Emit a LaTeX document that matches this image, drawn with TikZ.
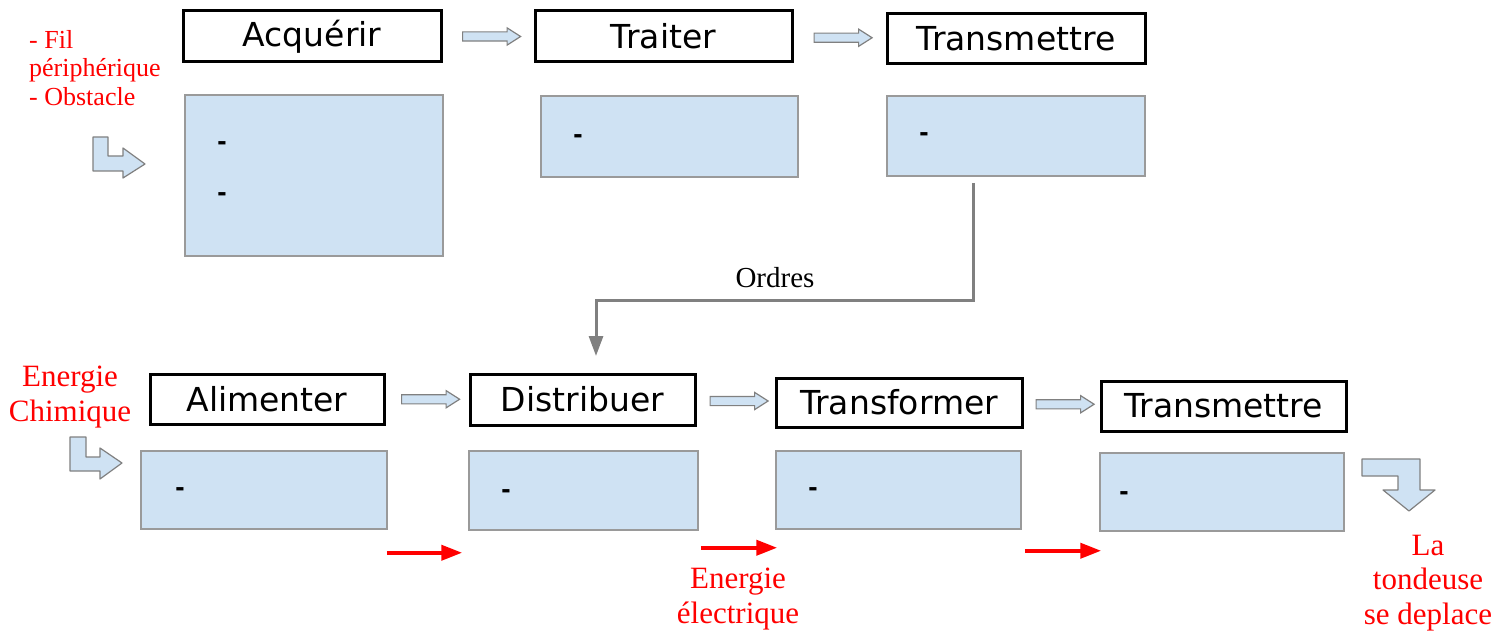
\documentclass[tikz,border=0pt]{standalone}
\usepackage{fontspec}
\setmainfont{Liberation Serif}
\newfontfamily\titleFont{DejaVu Sans}
\newfontfamily\dashFont{Liberation Sans}
\usetikzlibrary{positioning,calc,shapes.arrows,arrows.meta}
\definecolor{boxBlue}{HTML}{CFE2F3}
\definecolor{boxGray}{HTML}{9A9A9A}
\definecolor{lineGray}{HTML}{808080}
\tikzstyle{diagram} = [x=1pt, y=-1pt]
\tikzstyle{titleBox} = [draw=black, line width=3pt, fill=white, inner sep=0pt, font=\titleFont\fontsize{33}{36}\selectfont]
\tikzstyle{taskBox} = [draw=boxGray, line width=1.5pt, fill=boxBlue, inner sep=0pt]
\tikzstyle{dashText} = [font=\dashFont\bfseries\fontsize{28}{30}\selectfont, inner sep=0pt]
\tikzstyle{blockArrow} = [single arrow, draw=lineGray, fill=boxBlue, line width=1.2pt, minimum width=16pt, minimum height=58pt, single arrow head extend=4pt, single arrow tip angle=65, inner xsep=0pt, inner ysep=4pt]
\tikzstyle{bentArrow} = [draw=lineGray, fill=boxBlue, line width=1.2pt, line join=round]
\tikzstyle{redText} = [text=red, align=center, inner sep=0pt, font=\fontsize{31}{34.5}\selectfont]
\tikzstyle{redArrow} = [draw=red, line width=4pt, -{Triangle[length=21pt,width=15pt]}]
\tikzstyle{orderLine} = [draw=lineGray, line width=3pt, -{Triangle[length=20pt,width=14pt]}]
\newcommand{\blockArrowBetween}[2]{\node [blockArrow] at ($(#1.east)!0.5!(#2.west)$) {};}

\begin{document}
\begin{tikzpicture}[diagram]
  \useasboundingbox (0,0) rectangle (1506,636);

  % chaine d'information
  \node [titleBox, minimum width=258pt, minimum height=51pt] (acqT) at (312,36.5) {Acquérir};
  \node [titleBox, minimum width=257pt, minimum height=51pt] (trtT) at (663.5,36.5) {Traiter};
  \node [titleBox, minimum width=258pt, minimum height=50pt] (tmtT) at (1016,39) {Transmettre};
  \node [taskBox, minimum width=258pt, minimum height=161pt] (acqB) at (314,175.5) {};
  \node [taskBox, minimum width=257pt, minimum height=81pt] (trtB) at (669.5,136.5) {};
  \node [taskBox, minimum width=258pt, minimum height=80pt] (tmtB) at (1016,136) {};
  \node [dashText] (acqD1) at (222,146) {-};
  \node [dashText] (acqD2) at (222,197) {-};
  \node [dashText] (trtD) at (578,139) {-};
  \node [dashText] (tmtD) at (924,137) {-};
  \blockArrowBetween{acqT}{trtT}
  \blockArrowBetween{trtT}{tmtT}

  % chaine d'energie
  \node [titleBox, minimum width=234pt, minimum height=50pt] (aliT) at (267,399) {Alimenter};
  \node [titleBox, minimum width=225pt, minimum height=51pt] (disT) at (582.5,399.5) {Distribuer};
  \node [titleBox, minimum width=246pt, minimum height=49pt] (tfoT) at (899,402.5) {Transformer};
  \node [titleBox, minimum width=245pt, minimum height=50pt] (tm2T) at (1223.5,406) {Transmettre};
  \node [taskBox, minimum width=246pt, minimum height=78pt] (aliB) at (264,490) {};
  \node [taskBox, minimum width=229pt, minimum height=79pt] (disB) at (583.5,490.5) {};
  \node [taskBox, minimum width=245pt, minimum height=78pt] (tfoB) at (898.5,490) {};
  \node [taskBox, minimum width=244pt, minimum height=78pt] (tm2B) at (1222,492) {};
  \node [dashText] (aliD) at (180,492) {-};
  \node [dashText] (disD) at (506,494) {-};
  \node [dashText] (tfoD) at (813,492) {-};
  \node [dashText] (tm2D) at (1124,496) {-};
  \blockArrowBetween{aliT}{disT}
  \blockArrowBetween{disT}{tfoT}
  \blockArrowBetween{tfoT}{tm2T}

  % ordres
  \coordinate (ordStart) at (973,183);
  \coordinate (ordBend) at (973,300);
  \coordinate (ordEnd) at (596,356);
  \draw [orderLine] (ordStart) -- (ordBend) -| (ordEnd);
  \node [inner sep=0pt, font=\fontsize{29}{32}\selectfont] (ordLabel) at (775,278) {Ordres};

  % entrees et sorties
  \node [redText, align=left, anchor=west, font=\fontsize{26}{28.5}\selectfont] (inInfo) at (29,68) {- Fil\\périphérique\\- Obstacle};
  \node [redText] (inEnergy) at (70,397) {Energie\\Chimique};
  \node [redText] (elecEnergy) at (738,599) {Energie\\électrique};
  \node [redText] (outAction) at (1428,583) {La\\tondeuse\\se deplace};
  \filldraw [bentArrow] (93,137) -- (108,137) -- (108,156) -- (123,156) -- (123,148) -- (145,164) -- (123,178) -- (123,171) -- (93,171) -- cycle;
  \filldraw [bentArrow] (70,437) -- (86,437) -- (86,457) -- (100,457) -- (100,448) -- (122,463) -- (100,479) -- (100,471) -- (70,471) -- cycle;
  \filldraw [bentArrow] (1362,459) -- (1420,459) -- (1420,490) -- (1435,490) -- (1409,511) -- (1383,490) -- (1398,490) -- (1398,476) -- (1362,476) -- cycle;
  \draw [redArrow] ([xshift=-1pt,yshift=-23pt]aliB.south east) -- ([xshift=-6pt,yshift=-22pt]disB.south west);
  \draw [redArrow] ([xshift=2pt,yshift=-17pt]disB.south east) -- ([xshift=2pt,yshift=-18pt]tfoB.south west);
  \draw [redArrow] ([xshift=3pt,yshift=-21pt]tfoB.south east) -- ([xshift=2pt,yshift=-19pt]tm2B.south west);
\end{tikzpicture}
\end{document}
